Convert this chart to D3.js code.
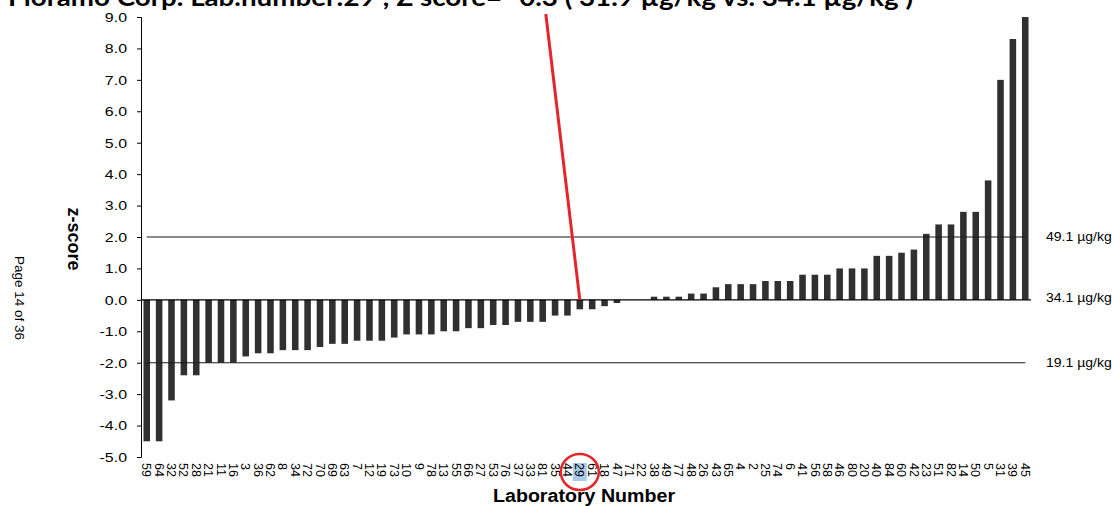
<!DOCTYPE html>
<html>
<head>
<meta charset="utf-8">
<script src="https://cdn.jsdelivr.net/npm/d3@7"></script>
<style>
  html, body { margin: 0; padding: 0; background: #fff; }
  svg { display: block; }
  text { font-family: "Liberation Sans", Arial, sans-serif; fill: #000; }
</style>
</head>
<body>
<svg id="chart" width="1114" height="506"></svg>
<script>
// Laboratory numbers, ordered by z-score
const labs = [
  "59","64","32","52","28","21","11","16","3","36",
  "62","8","34","72","70","69","63","7","12","19",
  "73","10","9","78","13","55","66","27","53","76",
  "37","33","81","35","44","29","61","18","47","71",
  "22","38","49","77","48","26","43","65","4","2",
  "25","74","6","41","56","58","46","80","20","40",
  "84","60","42","23","51","82","14","50","5","31",
  "39","45"
];

// z-score per laboratory
const zScores = [
  -4.5,-4.5,-3.2,-2.4,-2.4,-2.0,-2.0,-2.0,-1.8,-1.7,
  -1.7,-1.6,-1.6,-1.6,-1.5,-1.4,-1.4,-1.3,-1.3,-1.3,
  -1.2,-1.1,-1.1,-1.1,-1.0,-1.0,-0.9,-0.9,-0.8,-0.8,
  -0.7,-0.7,-0.7,-0.5,-0.5,-0.3,-0.3,-0.2,-0.1,0.0,
  0.0,0.1,0.1,0.1,0.2,0.2,0.4,0.5,0.5,0.5,
  0.6,0.6,0.6,0.8,0.8,0.8,1.0,1.0,1.0,1.4,
  1.4,1.5,1.6,2.1,2.4,2.4,2.8,2.8,3.8,7.0,
  8.3,9.0
];

// Y axis ticks
const yTicks = [-5,-4,-3,-2,-1,0,1,2,3,4,5,6,7,8,9];

// Reference levels (z) and their concentrations
const refZ = [2, 0, -2];
const refLabels = ["49.1 µg/kg", "34.1 µg/kg", "19.1 µg/kg"];

// Highlighted laboratory
const focusLab = "29";
const titleText = "Fioramo Corp. Lab.number:29 ; Z score= -0.3 ( 31.9 µg/kg vs. 34.1 µg/kg )";

const svg = d3.select("#chart");
const plotLeft = 141, plotRight = 1031, plotTop = 17, plotBottom = 457;

const x = d3.scaleBand().domain(labs).range([plotLeft, plotRight]).paddingInner(0.47).paddingOuter(0.2);
const y = d3.scaleLinear().domain([-5, 9]).range([plotBottom, plotTop]);
const bw = x.bandwidth();
const cx = d => x(d) + bw / 2;

// stretch a text element horizontally by factor k
function widen(sel, k) {
  sel.each(function () {
    const w = this.getComputedTextLength();
    d3.select(this).attr("textLength", w * k).attr("lengthAdjust", "spacingAndGlyphs");
  });
}

// Title (runs off the top edge)
svg.append("text")
  .attr("x", 8).attr("y", 6)
  .style("font-family", "Lato, 'Open Sans', sans-serif")
  .style("font-weight", 700).style("font-size", "24px")
  .attr("textLength", 905).attr("lengthAdjust", "spacingAndGlyphs")
  .text(titleText);

// Bars
svg.append("g").selectAll("rect")
  .data(labs.map((l, i) => ({ lab: l, z: zScores[i] })))
  .join("rect")
  .attr("x", d => x(d.lab))
  .attr("width", bw)
  .attr("y", d => y(Math.max(0, Math.min(9, d.z))))
  .attr("height", d => Math.abs(y(Math.min(9, d.z)) - y(0)))
  .attr("fill", "#303030");

// Reference lines at +2 and -2
svg.append("g").selectAll("line")
  .data(refZ.filter(v => v !== 0))
  .join("line")
  .attr("x1", cx(labs[0])).attr("x2", cx(labs[labs.length - 1]))
  .attr("y1", d => y(d)).attr("y2", d => y(d))
  .attr("stroke", "#1a1a1a").attr("stroke-width", 1.1);

// Zero line
svg.append("line")
  .attr("x1", plotLeft).attr("x2", plotRight)
  .attr("y1", y(0)).attr("y2", y(0))
  .attr("stroke", "#000").attr("stroke-width", 1.1);

// Right-hand reference labels
svg.append("g").selectAll("text")
  .data(refZ)
  .join("text")
  .attr("x", 1046).attr("y", d => y(d) - (d === 0 ? 2 : 0))
  .attr("dy", "0.35em")
  .style("font-size", "12.5px")
  .text((d, i) => refLabels[i])
  .call(widen, 1.12);

// Y axis
const yAxis = svg.append("g")
  .attr("transform", `translate(${plotLeft},0)`)
  .call(d3.axisLeft(y).tickValues(yTicks).tickFormat(d => d.toFixed(1)).tickSize(4).tickPadding(10));
yAxis.select(".domain").attr("stroke", "#000");
yAxis.selectAll("text").style("font-size", "13.5px").style("font-family", "'Liberation Sans', Arial, sans-serif").call(widen, 1.18);

// Highlight behind the focus lab label
svg.append("rect")
  .attr("x", cx(focusLab) - 7).attr("y", 463)
  .attr("width", 14).attr("height", 18)
  .attr("fill", "#a9cce6");

// X axis: rotated lab numbers
const xAxis = svg.append("g")
  .attr("transform", `translate(0,463)`)
  .call(d3.axisBottom(x).tickSize(0).tickPadding(0));
xAxis.select(".domain").remove();
xAxis.selectAll("text")
  .attr("x", 0).attr("y", 0).attr("dy", "0.35em")
  .attr("transform", "rotate(90)")
  .attr("text-anchor", "start")
  .style("font-size", "12.5px")
  .style("font-family", "'Liberation Sans', Arial, sans-serif");

// Axis titles
svg.append("text")
  .attr("transform", `translate(584,502)`)
  .attr("text-anchor", "middle")
  .style("font-weight", 700).style("font-size", "18px")
  .text("Laboratory Number")
  .attr("textLength", 182).attr("lengthAdjust", "spacingAndGlyphs");

svg.append("text")
  .attr("transform", `translate(68,239) rotate(90)`)
  .attr("text-anchor", "middle")
  .style("font-weight", 700).style("font-size", "18px")
  .text("z-score");

// Page note
svg.append("text")
  .attr("transform", `translate(15,256) rotate(90)`)
  .style("font-size", "13.5px")
  .text("Page 14 of 36");

// Pointer to the focus lab
svg.append("line")
  .attr("x1", cx(focusLab) - 34).attr("y1", y(9) - 3)
  .attr("x2", cx(focusLab)).attr("y2", y(0))
  .attr("stroke", "#e3262b").attr("stroke-width", 3);

svg.append("ellipse")
  .attr("cx", cx(focusLab)).attr("cy", 472)
  .attr("rx", 19).attr("ry", 18)
  .attr("fill", "none").attr("stroke", "#e3262b").attr("stroke-width", 2.5);
</script>
</body>
</html>
